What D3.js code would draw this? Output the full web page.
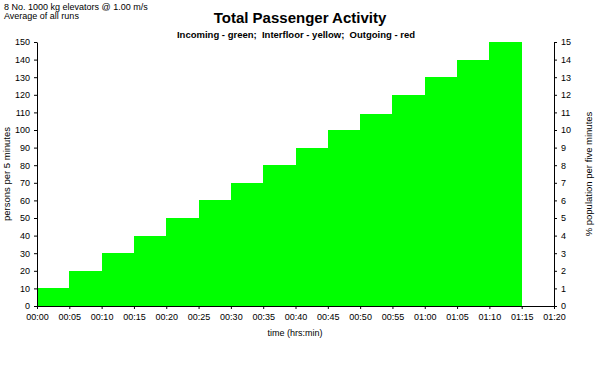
<!DOCTYPE html>
<html>
<head>
<meta charset="utf-8">
<script src="https://cdn.jsdelivr.net/npm/d3@7"></script>
<style>
  body { margin: 0; background: #fff; }
  svg { font-family: "Liberation Sans", Arial, sans-serif; }
  .axis text { font-size: 9px; fill: #000; }
  .axis path, .axis line { stroke: #000; }
</style>
</head>
<body>
<div id="chart"></div>
<script>
// minutes from start of each 5-minute interval
const starts = [0, 5, 10, 15, 20, 25, 30, 35, 40, 45, 50, 55, 60, 65, 70];
const persons = [10, 20, 30, 40, 50, 60, 70, 80, 90, 100, 109, 120, 130, 140, 150];
const xTicks = [0, 5, 10, 15, 20, 25, 30, 35, 40, 45, 50, 55, 60, 65, 70, 75, 80];
const yTicks = [0, 10, 20, 30, 40, 50, 60, 70, 80, 90, 100, 110, 120, 130, 140, 150];
const pctTicks = [0, 1, 2, 3, 4, 5, 6, 7, 8, 9, 10, 11, 12, 13, 14, 15];

const W = 602, H = 370;
const margin = {top: 42, right: 48, bottom: 64, left: 37},
      width = W - margin.left - margin.right,
      height = H - margin.top - margin.bottom;

const root = d3.select("#chart").append("svg")
  .attr("width", W)
  .attr("height", H);

const svg = root.append("g")
  .attr("transform", "translate(" + margin.left + "," + margin.top + ")");

const x = d3.scaleLinear().domain([0, 80]).range([0, width]);
const y = d3.scaleLinear().domain([0, 150]).range([height, 0]);
const y2 = d3.scaleLinear().domain([0, 15]).range([height, 0]);

function fmt(m) {
  const h = Math.floor(m / 60), mm = m % 60;
  return String(h).padStart(2, "0") + ":" + String(mm).padStart(2, "0");
}

svg.selectAll(".bar")
  .data(starts)
  .enter().append("rect")
  .attr("class", "bar")
  .attr("x", function(d) { return x(d); })
  .attr("width", function(d) { return x(d + 5) - x(d); })
  .attr("y", function(d, i) { return y(persons[i]); })
  .attr("height", function(d, i) { return height - y(persons[i]); })
  .attr("fill", "#00ff00")
  .attr("shape-rendering", "crispEdges");

svg.append("g")
  .attr("class", "axis")
  .attr("transform", "translate(0," + height + ")")
  .call(d3.axisBottom(x).tickValues(xTicks).tickFormat(fmt).tickSize(3).tickSizeOuter(0))
  .call(g => g.selectAll("text").attr("dy", "0.9em"));

svg.append("g")
  .attr("class", "axis")
  .call(d3.axisLeft(y).tickValues(yTicks).tickSize(3).tickSizeOuter(0))
  .call(g => g.selectAll("text").attr("x", -7));

svg.append("g")
  .attr("class", "axis")
  .attr("transform", "translate(" + width + ",0)")
  .call(d3.axisRight(y2).tickValues(pctTicks).tickSize(3).tickSizeOuter(0))
  .call(g => g.selectAll("text").attr("x", 7));

root.append("text")
  .attr("x", 4).attr("y", 10)
  .style("font-size", "9px")
  .text("8 No. 1000 kg elevators @ 1.00 m/s");
root.append("text")
  .attr("x", 4).attr("y", 19)
  .style("font-size", "9px")
  .text("Average of all runs");

root.append("text")
  .attr("x", 300).attr("y", 23)
  .attr("text-anchor", "middle")
  .style("font-size", "15px").style("font-weight", "bold")
  .text("Total Passenger Activity");
root.append("text")
  .attr("x", 296).attr("y", 38)
  .attr("text-anchor", "middle")
  .style("font-size", "9.5px").style("font-weight", "bold")
  .style("white-space", "pre")
  .text("Incoming - green;  Interfloor - yellow;  Outgoing - red");

root.append("text")
  .attr("x", 295).attr("y", 336)
  .attr("text-anchor", "middle")
  .style("font-size", "9px")
  .text("time (hrs:min)");

root.append("text")
  .attr("transform", "translate(10," + (margin.top + height / 2) + ") rotate(-90)")
  .attr("text-anchor", "middle")
  .style("font-size", "9.5px")
  .text("persons per 5 minutes");

root.append("text")
  .attr("transform", "translate(592," + (margin.top + height / 2) + ") rotate(-90)")
  .attr("text-anchor", "middle")
  .style("font-size", "9.5px")
  .text("% population per five minutes");
</script>
</body>
</html>
